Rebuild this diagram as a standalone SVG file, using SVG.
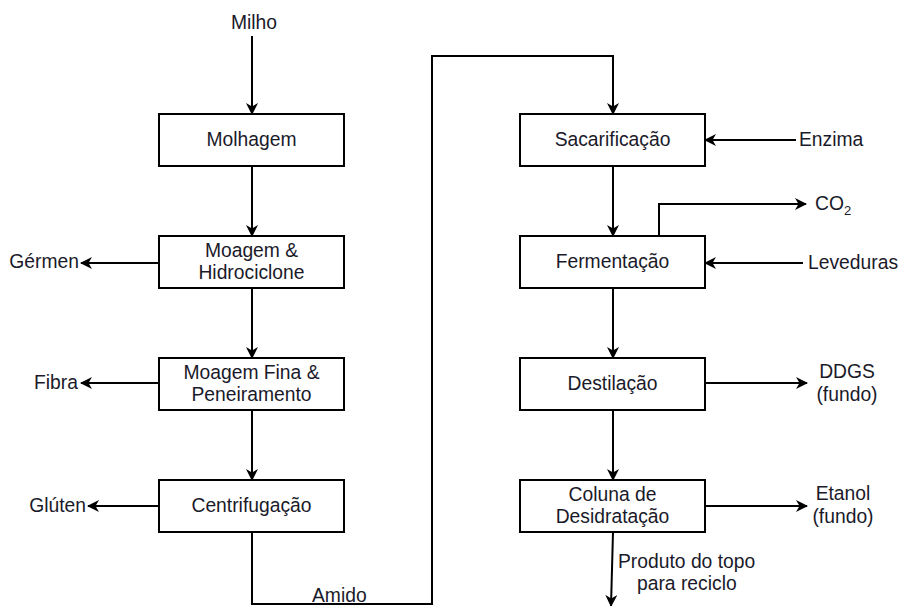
<svg xmlns="http://www.w3.org/2000/svg" width="901" height="606" viewBox="0 0 901 606">
  <defs>
    <marker id="arrow" viewBox="0 0 12 12" refX="11" refY="6" markerWidth="12" markerHeight="12" markerUnits="userSpaceOnUse" orient="auto">
      <path d="M0,0 L12,6 L0,12 L3.5,6 Z" fill="#000"/>
    </marker>
  </defs>
  <style>
    .box { fill: #fff; stroke: #000; stroke-width: 2; }
    .edge { fill: none; stroke: #000; stroke-width: 2; }
    .arr { marker-end: url(#arrow); }
    text { font-family: "Liberation Sans", Arial, sans-serif; font-size: 19.3px; fill: #1a1a2a; }
    .c { text-anchor: middle; }
    .e { text-anchor: end; }
  </style>
  <rect width="901" height="606" fill="#fff"/>

  <g id="connectors">
    <!-- left column -->
    <path class="edge arr" d="M252,36 V114"/>
    <path class="edge arr" d="M252,166 V236"/>
    <path class="edge arr" d="M252,288 V358"/>
    <path class="edge arr" d="M252,410 V480"/>
    <path class="edge arr" d="M159,263 H81"/>
    <path class="edge arr" d="M159,383 H81"/>
    <path class="edge arr" d="M159,506 H88"/>
    <!-- starch transfer -->
    <path class="edge arr" d="M252,532 V604 H432 V56 H613 V114"/>
    <!-- right column -->
    <path class="edge arr" d="M613,166 V236"/>
    <path class="edge arr" d="M613,288 V358"/>
    <path class="edge arr" d="M613,410 V480"/>
    <path class="edge arr" d="M613,532 L611,606"/>
    <path class="edge arr" d="M796,140 H705"/>
    <path class="edge arr" d="M803,263 H705"/>
    <path class="edge arr" d="M659,236 V204 H806"/>
    <path class="edge arr" d="M705,383 H807"/>
    <path class="edge arr" d="M705,506 H807"/>
  </g>

  <g id="molhagem">
    <rect class="box" x="159" y="114" width="185" height="52"/>
    <text class="c" x="251.5" y="146">Molhagem</text>
  </g>
  <g id="moagem-hidrociclone">
    <rect class="box" x="159" y="236" width="185" height="52"/>
    <text class="c" x="251.5" y="257">Moagem &amp;</text>
    <text class="c" x="251.5" y="279">Hidrociclone</text>
  </g>
  <g id="moagem-fina">
    <rect class="box" x="159" y="358" width="185" height="52"/>
    <text class="c" x="251.5" y="379">Moagem Fina &amp;</text>
    <text class="c" x="251.5" y="401">Peneiramento</text>
  </g>
  <g id="centrifugacao">
    <rect class="box" x="159" y="480" width="185" height="52"/>
    <text class="c" x="251.5" y="512">Centrifugação</text>
  </g>
  <g id="sacarificacao">
    <rect class="box" x="520" y="114" width="185" height="52"/>
    <text class="c" x="612.5" y="146">Sacarificação</text>
  </g>
  <g id="fermentacao">
    <rect class="box" x="520" y="236" width="185" height="52"/>
    <text class="c" x="612.5" y="268">Fermentação</text>
  </g>
  <g id="destilacao">
    <rect class="box" x="520" y="358" width="185" height="52"/>
    <text class="c" x="612.5" y="390">Destilação</text>
  </g>
  <g id="coluna-desidratacao">
    <rect class="box" x="520" y="480" width="185" height="52"/>
    <text class="c" x="612.5" y="501">Coluna de</text>
    <text class="c" x="612.5" y="523">Desidratação</text>
  </g>

  <g id="labels">
    <text class="c" x="254" y="29">Milho</text>
    <text class="e" x="79" y="268">Gérmen</text>
    <text class="e" x="78" y="389">Fibra</text>
    <text class="e" x="86" y="512">Glúten</text>
    <text x="312" y="602">Amido</text>
    <text x="799" y="146">Enzima</text>
    <text x="808" y="269">Leveduras</text>
    <text x="815" y="210">CO<tspan font-size="13" dy="5">2</tspan></text>
    <text class="c" x="847" y="378">DDGS</text>
    <text class="c" x="847" y="401">(fundo)</text>
    <text class="c" x="843" y="500">Etanol</text>
    <text class="c" x="843" y="523">(fundo)</text>
    <text x="618" y="568">Produto do topo</text>
    <text x="637" y="590">para reciclo</text>
  </g>
</svg>
